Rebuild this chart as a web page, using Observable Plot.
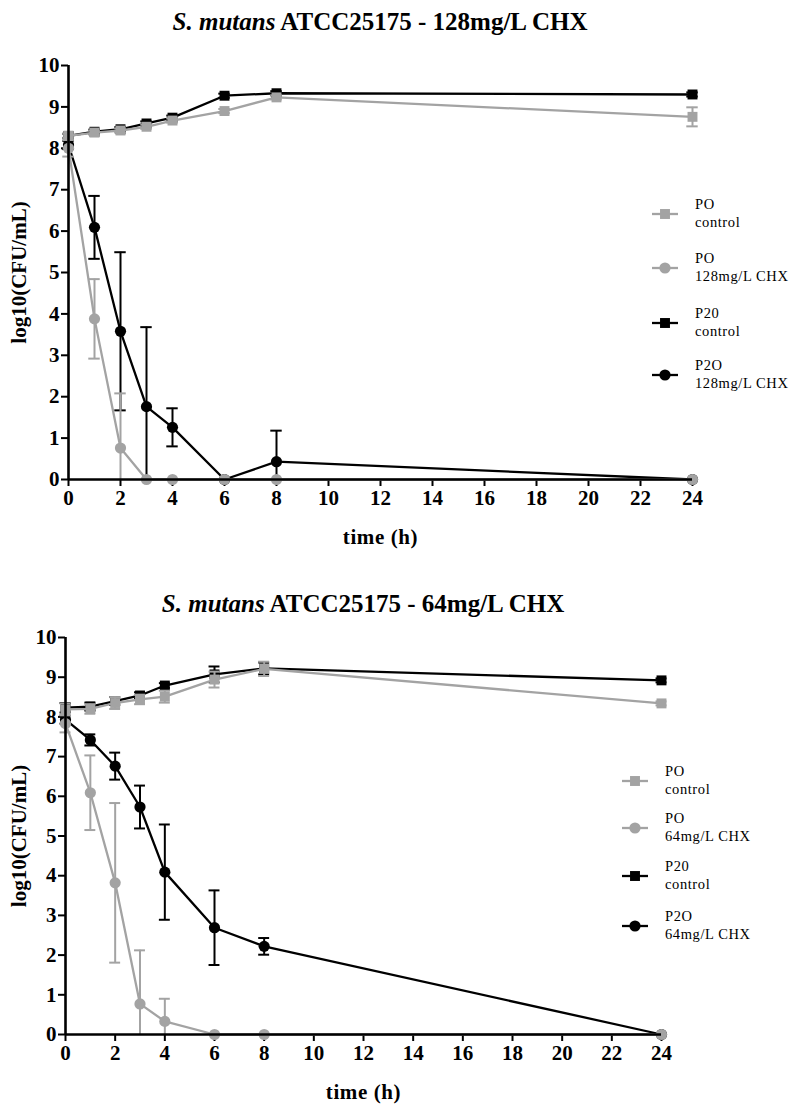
<!DOCTYPE html>
<html>
<head>
<meta charset="utf-8">
<script src="https://cdn.jsdelivr.net/npm/d3@7"></script>
<script src="https://cdn.jsdelivr.net/npm/@observablehq/plot@0.6"></script>
<style>
  body { margin: 0; background: #fff; }
  #page { position: relative; width: 797px; height: 1107px; font-family: 'Liberation Serif', 'Times New Roman', serif; }
  .title { position: absolute; transform: translateX(-50%); white-space: nowrap; font-size: 25px; font-weight: bold; line-height: 25px; }
  .panel { position: absolute; left: 0; }
  .legend { position: absolute; left: 0; top: 0; pointer-events: none; }
  g[aria-label="x-axis tick"], g[aria-label="y-axis tick"] { stroke-width: 2px; }
  g[aria-label="x-axis label"] text { letter-spacing: 0.6px; }
</style>
</head>
<body>
<div id="page"></div>
<script>
// sampling times (h)
const times = [0, 1, 2, 3, 4, 6, 8, 24]
const xTicks = [0, 2, 4, 6, 8, 10, 12, 14, 16, 18, 20, 22, 24]
const yTicks = [0, 1, 2, 3, 4, 5, 6, 7, 8, 9, 10]

// 128 mg/L CHX
const poControl128 = [8.30, 8.38, 8.43, 8.52, 8.67, 8.90, 9.23, 8.76]
const poControl128Err = [0.05, 0.05, 0.05, 0.05, 0.05, 0.05, 0.05, 0.23]
const p20Control128 = [8.30, 8.40, 8.46, 8.60, 8.74, 9.27, 9.33, 9.30]
const p20Control128Err = [0.05, 0.05, 0.05, 0.05, 0.05, 0.05, 0.05, 0.05]
const poChx128 = [8.00, 3.88, 0.76, 0, 0, 0, 0, 0]
const poChx128Err = [0.20, 0.96, 1.32, 0, 0, 0, 0, 0]
const p20Chx128 = [8.08, 6.09, 3.58, 1.76, 1.26, 0, 0.43, 0]
const p20Chx128Err = [0.10, 0.76, 1.91, 1.92, 0.46, 0, 0.75, 0]

// 64 mg/L CHX
const poControl64 = [8.19, 8.20, 8.35, 8.44, 8.51, 8.94, 9.21, 8.34]
const poControl64Err = [0.15, 0.12, 0.15, 0.12, 0.15, 0.20, 0.18, 0.05]
const p20Control64 = [8.23, 8.26, 8.40, 8.54, 8.79, 9.07, 9.22, 8.92]
const p20Control64Err = [0.12, 0.10, 0.10, 0.08, 0.06, 0.20, 0.15, 0.05]
const poChx64 = [7.83, 6.09, 3.82, 0.77, 0.33, 0, 0, 0]
const poChx64Err = [0.22, 0.94, 2.01, 1.35, 0.57, 0, 0, 0]
const p20Chx64 = [7.93, 7.42, 6.76, 5.73, 4.09, 2.69, 2.22, 0]
const p20Chx64Err = [0.10, 0.14, 0.34, 0.54, 1.20, 0.94, 0.21, 0]

const GREY = '#a3a3a3'
const BLACK = '#000'
const CAP = 0.22  // half width of error caps, in hours

const page = d3.select('#page')

function toRows(values, errs) {
  return times.map((t, i) => ({t: t, v: values[i], e: errs[i], lo: Math.max(0, values[i] - errs[i]), hi: values[i] + errs[i]}))
}

function seriesMarks(s) {
  let rows = toRows(s.values, s.errs)
  let withErr = rows.filter(d => d.e > 0)
  return [
    Plot.line(rows, {x: 't', y: 'v', stroke: s.color, strokeWidth: 2.3}),
    Plot.ruleX(withErr, {x: 't', y1: 'lo', y2: 'hi', stroke: s.color, strokeWidth: 2}),
    Plot.ruleY(withErr, {y: 'hi', x1: d => d.t - CAP, x2: d => d.t + CAP, stroke: s.color, strokeWidth: 2}),
    Plot.ruleY(withErr.filter(d => d.v - d.e > 0), {y: 'lo', x1: d => d.t - CAP, x2: d => d.t + CAP, stroke: s.color, strokeWidth: 2}),
    Plot.dot(rows, {x: 't', y: 'v', symbol: s.symbol, fill: s.color, stroke: 'none', r: 5.6})
  ]
}

function panel(cfg) {
  page.append('div')
    .attr('class', 'title')
    .style('left', cfg.titleX + 'px')
    .style('top', cfg.titleTop + 'px')
    .html('<i>S. mutans</i> ATCC25175 - ' + cfg.dose + ' CHX')

  // black series under the grey ones
  let order = [cfg.series[2], cfg.series[3], cfg.series[0], cfg.series[1]]

  let chart = Plot.plot({
    width: 797,
    height: cfg.height,
    marginLeft: cfg.marginLeft,
    marginRight: cfg.marginRight,
    marginTop: 20,
    marginBottom: 70,
    x: {domain: [0, 24], ticks: xTicks, tickSize: 7, tickPadding: 4, label: 'time (h)', labelAnchor: 'center', labelOffset: 64, labelArrow: 'none'},
    y: {domain: [0, 10], ticks: yTicks, tickSize: 7, tickPadding: 2, tickFormat: d3.format('d'), label: 'log10(CFU/mL)', labelAnchor: 'center', labelOffset: cfg.yLabelOffset, labelArrow: 'none'},
    marks: [
      ...order.flatMap(seriesMarks),
      Plot.ruleX([0], {stroke: BLACK, strokeWidth: 2.6}),
      Plot.ruleY([0], {stroke: BLACK, strokeWidth: 2.6})
    ],
    style: {
      fontFamily: "'Liberation Serif', 'Times New Roman', serif",
      fontSize: '21px',
      fontWeight: 'bold',
      color: 'black',
      background: 'white',
      overflow: 'visible'
    }
  })
  page.append('div').attr('class', 'panel').style('top', cfg.top + 'px').append(() => chart)

  // legend, drawn beside the plot
  let lg = page.append('svg').attr('class', 'legend').attr('width', 797).attr('height', 1107)
  cfg.series.forEach((s, i) => {
    let y = cfg.legendY[i]
    let g = lg.append('g')
    g.append('line').attr('x1', cfg.legendX - 13).attr('x2', cfg.legendX + 13)
      .attr('y1', y + 8).attr('y2', y + 8).attr('stroke', s.color).attr('stroke-width', 2.3)
    g.append('path').attr('transform', `translate(${cfg.legendX},${y + 8})`)
      .attr('d', d3.symbol(s.symbol == 'square' ? d3.symbolSquare : d3.symbolCircle, Math.PI * 5.6 * 5.6)())
      .attr('fill', s.color)
    s.label.forEach((line, j) => {
      g.append('text').attr('x', cfg.legendX + 30).attr('y', y + j * 18)
        .attr('dominant-baseline', 'middle')
        .attr('font-size', 14.5).attr('letter-spacing', 0.6)
        .attr('font-family', "'Liberation Serif', serif")
        .text(line)
    })
  })
}

panel({
  dose: '128mg/L',
  titleX: 380, titleTop: 9,
  top: 45, height: 504, marginLeft: 68, marginRight: 105, yLabelOffset: 57,
  legendX: 665, legendY: [206, 260, 315, 367],
  series: [
    {values: poControl128, errs: poControl128Err, color: GREY, symbol: 'square', label: ['PO', 'control']},
    {values: poChx128, errs: poChx128Err, color: GREY, symbol: 'circle', label: ['PO', '128mg/L CHX']},
    {values: p20Control128, errs: p20Control128Err, color: BLACK, symbol: 'square', label: ['P20', 'control']},
    {values: p20Chx128, errs: p20Chx128Err, color: BLACK, symbol: 'circle', label: ['P2O', '128mg/L CHX']}
  ]
})

panel({
  dose: '64mg/L',
  titleX: 363, titleTop: 591,
  top: 617, height: 487, marginLeft: 65, marginRight: 136, yLabelOffset: 54,
  legendX: 635, legendY: [773, 820, 868, 918],
  series: [
    {values: poControl64, errs: poControl64Err, color: GREY, symbol: 'square', label: ['PO', 'control']},
    {values: poChx64, errs: poChx64Err, color: GREY, symbol: 'circle', label: ['PO', '64mg/L CHX']},
    {values: p20Control64, errs: p20Control64Err, color: BLACK, symbol: 'square', label: ['P20', 'control']},
    {values: p20Chx64, errs: p20Chx64Err, color: BLACK, symbol: 'circle', label: ['P2O', '64mg/L CHX']}
  ]
})
</script>
</body>
</html>
